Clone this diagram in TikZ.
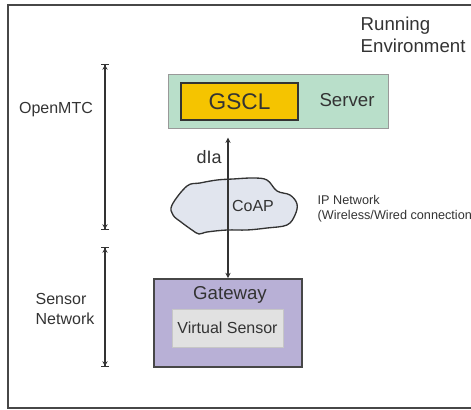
\documentclass[tikz,border=0pt]{standalone}
\usepackage{fontspec}
\setmainfont{Liberation Sans}
\usepackage{tikz}
\usetikzlibrary{arrows.meta,positioning,calc}
\definecolor{srvgreen}{HTML}{B9DFCA}
\definecolor{gsclyellow}{HTML}{F5C400}
\definecolor{gwviolet}{HTML}{B8B0D6}
\definecolor{vsgray}{HTML}{E1E1E1}
\definecolor{cloudblue}{HTML}{E1E5EE}
\definecolor{ink}{HTML}{333333}

\begin{document}
\begin{tikzpicture}[x=0.75pt, y=-0.75pt, >={Stealth[length=4pt,width=4pt]},
  every node/.style={text=ink},
  box/.style={draw, inner sep=0pt},
  dim/.style={draw=ink, line width=0.8pt, {Bar[width=6pt]Stealth[length=3.5pt,width=4pt]}-{Stealth[length=3.5pt,width=4pt]Bar[width=6pt]}}]
\useasboundingbox (0,0) rectangle (471,410);
\draw[ink!90, line width=1.5pt] (472,5) -- (8,5) -- (8,408) -- (472,408);
\node[anchor=west, align=left, font=\fontsize{14}{16.5}\selectfont] (env) at (356,35) {Running\\Environment};

% server side
\node[box, draw=gray!80, fill=srvgreen, minimum width=165pt, minimum height=40.5pt] (srv) at (278,101) {};
\node[box, draw=ink, line width=1pt, fill=gsclyellow, minimum width=87.75pt, minimum height=27.75pt,
      font=\fontsize{17}{20}\selectfont] (gscl) at (239.5,101.5) {GSCL};
\node[font=\fontsize{14}{16}\selectfont] (srvlbl) at (347,100) {Server};

% network cloud
\draw[ink, line width=1pt, fill=cloudblue] plot[smooth cycle, tension=0.6] coordinates {
  (172,205) (187,186) (200,183) (217,180) (233,179) (253,178) (267,180) (277,191)
  (290,195) (297,204) (295,215) (287,225) (267,228) (247,230) (227,230) (207,232)
  (199,234) (192,230) (181,222) (173,215)};
\node[font=\fontsize{12}{14}\selectfont] (coap) at (253,206) {CoAP};
\node[anchor=west, align=left, font=\fontsize{9.5}{11}\selectfont] (ipnet) at (313,209) {IP Network\\(Wireless/Wired connection};

% gateway side
\node[box, draw=ink!90, line width=1.3pt, fill=gwviolet, minimum width=111pt, minimum height=66pt] (gw) at (228,323) {};
\node[font=\fontsize{14}{16}\selectfont] (gwlbl) at (230,295) {Gateway};
\node[box, draw=gray!45, fill=vsgray, minimum width=83.25pt, minimum height=28.5pt,
      font=\fontsize{12}{14}\selectfont] (vs) at (227.5,328) {Virtual Sensor};

\draw[<->, ink, line width=0.9pt, shorten >=7pt] (gw.north) -- (gw.north |- srv.south)
  node[pos=0.81, left=1pt, font=\fontsize{13.5}{16}\selectfont] (dia) {dIa};

% layers
\coordinate (omtcT) at (105,64);
\coordinate (omtcB) at (105,230);
\coordinate (snT) at (105,247);
\coordinate (snB) at (105,367);
\draw[dim] (omtcT) -- (omtcB);
\draw[dim] (snT) -- (snB);
\node[font=\fontsize{12}{14}\selectfont] (omtc) at (56,110) {OpenMTC};
\node[align=left, font=\fontsize{12}{14.5}\selectfont] (sn) at (65,309) {Sensor\\Network};
\end{tikzpicture}
\end{document}
